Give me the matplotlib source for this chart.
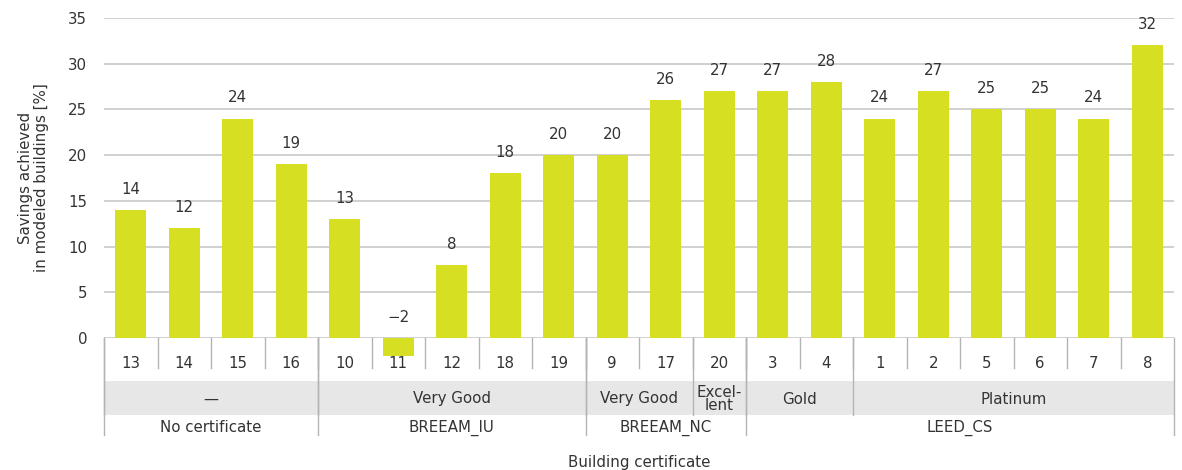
import matplotlib.pyplot as plt
from matplotlib.transforms import blended_transform_factory

plt.rcParams['font.family'] = ['DejaVu Sans']

buildings = ['13', '14', '15', '16', '10', '11', '12', '18', '19', '9', '17',
             '20', '3', '4', '1', '2', '5', '6', '7', '8']
savings = [14, 12, 24, 19, 13, -2, 8, 18, 20, 20, 26, 27, 27, 28, 24, 27, 25,
           25, 24, 32]
# (label, number of buildings)
ratings = [('—', 4), ('Very Good', 5), ('Very Good', 2), ('Excel-\nlent', 1),
           ('Gold', 2), ('Platinum', 6)]
certificates = [('No certificate', 4), ('BREEAM_IU', 5), ('BREEAM_NC', 3),
                ('LEED_CS', 8)]

BAR = '#d7df23'
TXT = '#333333'
LINE = '#b4b4b4'
BAND = '#e6e7e6'
FS = 10.8

fig = plt.figure(figsize=(11.82, 4.7), dpi=100)
ax = fig.add_axes([104 / 1182, 132 / 470, 1070 / 1182, 320 / 470])

x = range(len(savings))
ax.bar(x, savings, width=0.58, color=BAR, zorder=3, clip_on=False)
for xi, v in zip(x, savings):
    ax.annotate(str(v).replace('-', '−'), (xi, max(v, 0)), xytext=(0, 15),
                textcoords='offset points', ha='center', va='center',
                fontsize=FS, color=TXT)

ax.set_xlim(-0.5, len(savings) - 0.5)
ax.set_ylim(0, 35)
ax.set_yticks(range(0, 36, 5))
ax.set_xticks([])
ax.tick_params(axis='y', length=0, pad=12, labelsize=FS, labelcolor=TXT)
ax.grid(axis='y', color='#c8c8c8', linewidth=1.2, zorder=0)
for s in ax.spines.values():
    s.set_visible(False)
ax.set_ylabel('Savings achieved\nin modeled buildings [%]', fontsize=FS,
              color=TXT, labelpad=14, linespacing=1.1)

# multi-level category table below the axis (y in axes fraction)
tr = blended_transform_factory(ax.transData, ax.transAxes)
px = 1 / 320
band_top, band_bot = -43 * px, -77 * px
ax.fill_between([-0.5, len(savings) - 0.5], band_bot, band_top, color=BAND,
                transform=tr, clip_on=False, zorder=0, lw=0)

for i, b in enumerate(buildings):
    ax.text(i, -26 * px, b, transform=tr, ha='center', va='center',
            fontsize=FS, color=TXT)
    if i > 0:
        ax.plot([i - 0.5, i - 0.5], [0, -30 * px], transform=tr, color=LINE,
                lw=1, clip_on=False)

start = 0
for lab, n in ratings:
    ax.text(start + n / 2 - 0.5, -61 * px, lab, transform=tr, ha='center',
            va='center', fontsize=FS, color=TXT, linespacing=0.9)
    ax.plot([start - 0.5, start - 0.5], [0, band_bot], transform=tr,
            color=LINE, lw=1, clip_on=False)
    start += n

start = 0
for lab, n in certificates:
    ax.text(start + n / 2 - 0.5, -90 * px, lab, transform=tr, ha='center',
            va='center', fontsize=FS, color=TXT)
    ax.plot([start - 0.5, start - 0.5], [0, -97 * px], transform=tr,
            color=LINE, lw=1, clip_on=False)
    start += n
ax.plot([start - 0.5, start - 0.5], [0, -97 * px], transform=tr,
        color=LINE, lw=1, clip_on=False)

ax.text(0.5, -125 * px, 'Building certificate', transform=ax.transAxes,
        ha='center', va='center', fontsize=FS, color=TXT)

fig.savefig('out.png', dpi=100, facecolor='white')
